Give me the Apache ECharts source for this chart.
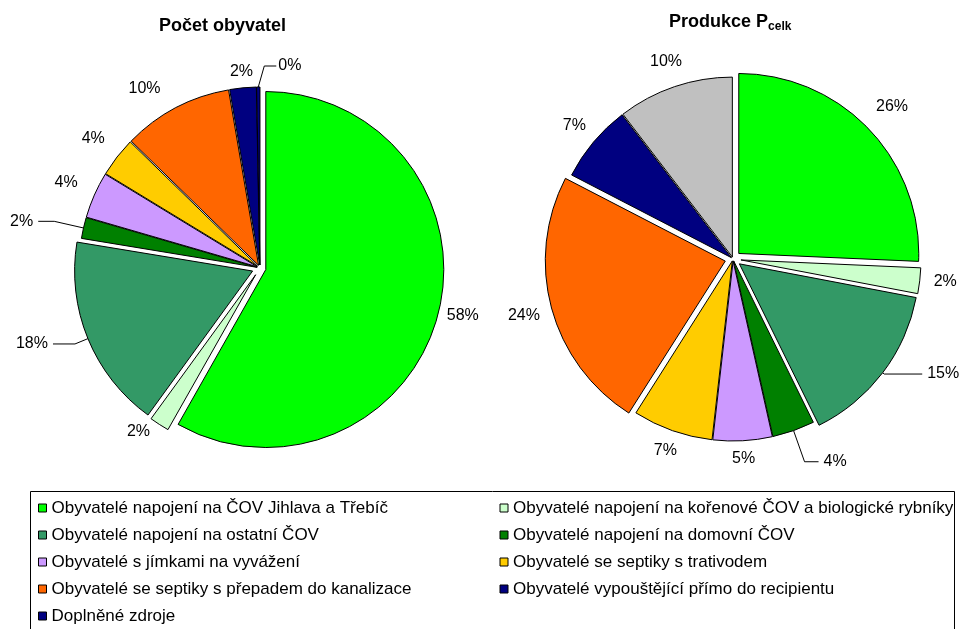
<!DOCTYPE html>
<html>
<head>
<meta charset="utf-8">
<script src="https://cdn.jsdelivr.net/npm/echarts@6/dist/echarts.min.js"></script>
<style>
  html, body { margin: 0; padding: 0; background: #fff; }
  #chart { width: 965px; height: 629px; }
</style>
</head>
<body>
<div id="chart"></div>
<script>
// Skupiny obyvatel podle způsobu likvidace odpadních vod
const categories = [
  'Obyvatelé napojení na ČOV Jihlava a Třebíč',
  'Obyvatelé napojení na kořenové ČOV a biologické rybníky',
  'Obyvatelé napojení na ostatní ČOV',
  'Obyvatelé napojení na domovní ČOV',
  'Obyvatelé s jímkami na vyvážení',
  'Obyvatelé se septiky s trativodem',
  'Obyvatelé se septiky s přepadem do kanalizace',
  'Obyvatelé vypouštějící přímo do recipientu',
  'Doplněné zdroje'
];

// Podíly v procentech
const pocetObyvatel = [58.2, 1.8, 17.6, 1.9, 4.2, 3.6, 10.0, 2.4, 0.3];
const produkcePcelk = [25.7, 2.3, 14.7, 3.8, 5.3, 7.2, 23.6, 7.0, 10.4];

const colorsLeft  = ['#00FF00', '#CCFFCC', '#339966', '#008000', '#CC99FF', '#FFCC00', '#FF6600', '#000080', '#000080'];
const colorsRight = ['#00FF00', '#CCFFCC', '#339966', '#008000', '#CC99FF', '#FFCC00', '#FF6600', '#000080', '#C0C0C0'];

// Vysunutí jednotlivých výsečí (px)
const explodeLeft  = [6, 8, 8, 3, 3, 3, 3, 3, 3];
const explodeRight = [8, 8, 8, 2, 2, 2, 8, 2, 2];

// Vodicí čáry popisků: [délka od okraje, vodorovná délka, zobrazit]
const leadersLeft = [
  [4, 0, false], [8, 0, false], [14, 22, true], [30, 16, true], [10, 0, false],
  [10, 0, false], [22, 0, false], [10, 0, false], [14, 6, true]
];
const leadersRight = [
  [15, 0, false], [9, 0, false], [2, 38, true], [33, 14, true], [15, 0, false],
  [15, 0, false], [15, 0, false], [10, 0, false], [15, 0, false]
];

// Popisky vystředěné na ose výseče: mezera od okraje (null = výchozí umístění)
const labelGapLeft  = [null, null, null, null, 17, 16, null, 7, null];
const labelGapRight = [15, null, null, null, 9, 10, 11, 11, 14];

const FONT = '"Liberation Sans", Arial, sans-serif';
const CLEAR = 'rgba(0,0,0,0)';

// Úhel středu výseče ve stupních, po směru hodinových ručiček od 12 hodin
function midAngle(values, idx) {
  const total = values.reduce((a, b) => a + b, 0);
  let before = 0;
  for (let i = 0; i < idx; i++) before += values[i];
  return (before + values[idx] / 2) / total * 360;
}

function unitOf(values, idx) {
  const a = midAngle(values, idx) * Math.PI / 180;
  return [Math.sin(a), -Math.cos(a)];
}

function makeLabelLayout(values, explode, gaps, center, radius, zeroIndex) {
  return function (params) {
    const i = params.dataIndex;
    const [ux, uy] = unitOf(values, i);
    const r = radius + explode[i];
    const ex = center[0] + ux * r, ey = center[1] + uy * r;
    if (i === zeroIndex) {
      // nulová výseč: čára nahoru a doprava k popisku
      const p1 = [ex + 6, ey - 21];
      const p2 = [p1[0] + 12, p1[1]];
      return {
        x: p2[0] + 2, y: p2[1],
        align: 'left', verticalAlign: 'middle',
        labelLinePoints: [[ex, ey], p1, p2]
      };
    }
    const g = gaps[i];
    if (g == null) return {};
    const w = params.labelRect.width, h = params.labelRect.height;
    const d = g + Math.abs(ux) * w / 2 + Math.abs(uy) * h / 2;
    return { x: ex + ux * d, y: ey + uy * d, align: 'center', verticalAlign: 'middle' };
  };
}

// Každá výseč má vlastní sérii se středem posunutým ve směru své osy (vysunutí)
function pieSlices(values, colors, explode, leaders, gaps, center, radius, zeroIndex) {
  return values.map((_, k) => {
    const [ux, uy] = unitOf(values, k);
    return {
      type: 'pie',
      center: [center[0] + ux * explode[k], center[1] + uy * explode[k]],
      radius: radius,
      startAngle: 90,
      clockwise: true,
      animation: false,
      avoidLabelOverlap: false,
      silent: true,
      emphasis: { disabled: true },
      label: {
        show: true,
        position: 'outside',
        fontFamily: FONT,
        fontSize: 16,
        color: '#000',
        overflow: 'none',
        formatter: p => Math.round(p.percent) + '%'
      },
      labelLine: { show: false, smooth: false, lineStyle: { color: '#000', width: 1 } },
      labelLayout: makeLabelLayout(values, explode, gaps, center, radius, zeroIndex),
      data: values.map((v, i) => {
        const item = {
          name: categories[i],
          value: v,
          labelLine: { show: i === k && leaders[i][2], length: leaders[i][0], length2: leaders[i][1] }
        };
        if (i === k) {
          item.itemStyle = { color: colors[i], borderColor: '#000', borderWidth: 1 };
        } else {
          item.itemStyle = { color: CLEAR, borderColor: CLEAR, borderWidth: 0 };
          item.label = { show: false };
        }
        return item;
      })
    };
  });
}

const chart = echarts.init(document.getElementById('chart'), null, { renderer: 'canvas' });

chart.setOption({
  backgroundColor: '#fff',
  animation: false,
  title: [
    {
      text: 'Počet obyvatel',
      left: 154, top: 12,
      textStyle: { fontFamily: FONT, fontSize: 18, fontWeight: 'bold', color: '#000' }
    },
    {
      text: 'Produkce P{sub|celk}',
      left: 664, top: 7,
      textStyle: {
        fontFamily: FONT, fontSize: 18, fontWeight: 'bold', color: '#000',
        rich: { sub: { fontFamily: FONT, fontSize: 12, fontWeight: 'bold', color: '#000', verticalAlign: 'bottom', padding: [9, 0, 0, 0] } }
      }
    }
  ],
  legend: {
    data: categories.map((name, i) => ({ name: name, itemStyle: { color: colorsLeft[i] } })),
    left: 33, top: 494,
    width: 930,
    orient: 'horizontal',
    icon: 'rect',
    itemWidth: 8, itemHeight: 8,
    itemGap: 9,
    selectedMode: false,
    itemStyle: { borderColor: '#000', borderWidth: 1 },
    textStyle: { fontFamily: FONT, fontSize: 17, color: '#000', width: 439, lineHeight: 18, overflow: 'none' }
  },
  graphic: [
    {
      type: 'rect',
      shape: { x: 30.5, y: 491.5, width: 924, height: 200 },
      style: { fill: 'none', stroke: '#000', lineWidth: 1 },
      silent: true
    }
  ],
  series: [].concat(
    pieSlices(pocetObyvatel, colorsLeft, explodeLeft, leadersLeft, labelGapLeft, [260, 268], 178, 8),
    pieSlices(produkcePcelk, colorsRight, explodeRight, leadersRight, labelGapRight, [733, 259], 180, -1)
  )
});
</script>
</body>
</html>
